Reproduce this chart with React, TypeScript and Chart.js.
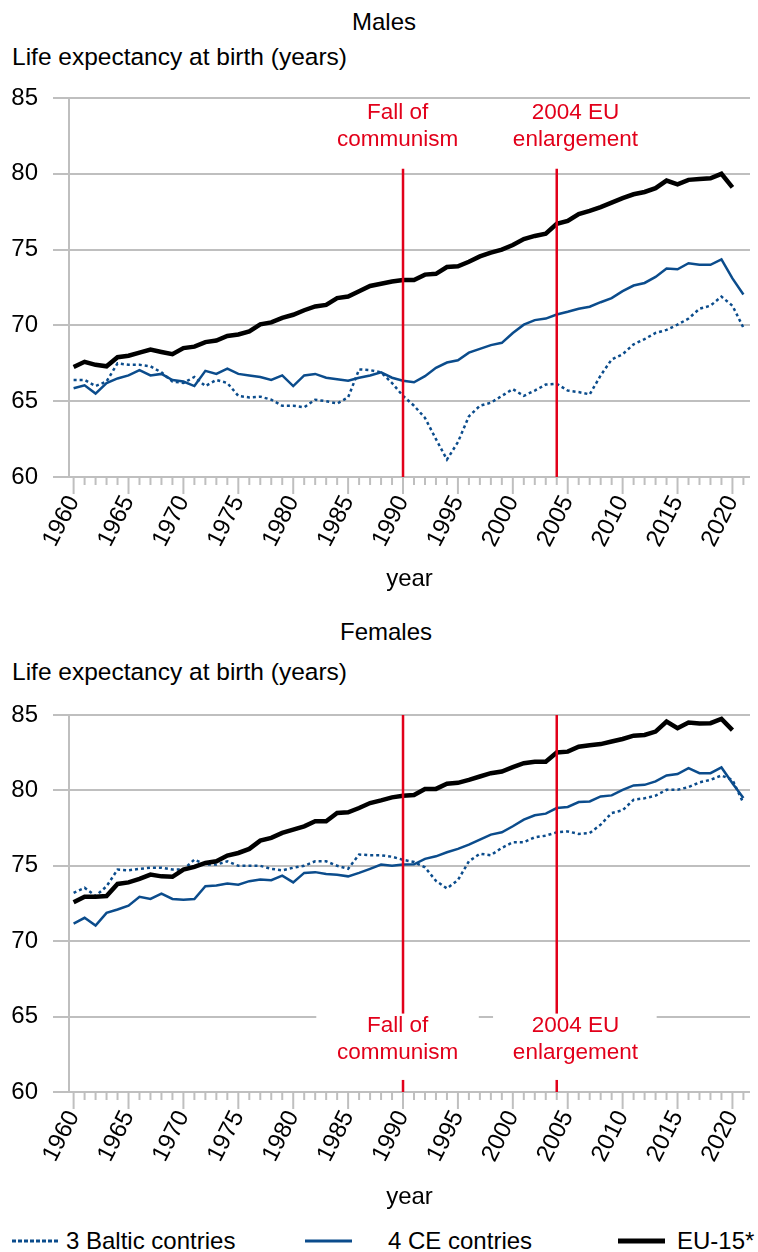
import React, { useEffect, useRef } from "react";
import { Chart, registerables } from "chart.js";

Chart.register(...registerables);

if (typeof document !== "undefined") {
  document.body.style.margin = "0";
}

// ---------- DATA ----------
const years = [
  1960, 1961, 1962, 1963, 1964, 1965, 1966, 1967, 1968, 1969,
  1970, 1971, 1972, 1973, 1974, 1975, 1976, 1977, 1978, 1979,
  1980, 1981, 1982, 1983, 1984, 1985, 1986, 1987, 1988, 1989,
  1990, 1991, 1992, 1993, 1994, 1995, 1996, 1997, 1998, 1999,
  2000, 2001, 2002, 2003, 2004, 2005, 2006, 2007, 2008, 2009,
  2010, 2011, 2012, 2013, 2014, 2015, 2016, 2017, 2018, 2019,
  2020, 2021,
];

const maleEU15 = [
  67.26, 67.6, 67.4, 67.3, 67.9, 68.0, 68.2, 68.4, 68.25, 68.1,
  68.5, 68.6, 68.9, 69.0, 69.3, 69.4, 69.6, 70.07, 70.2, 70.5,
  70.7, 71.0, 71.25, 71.35, 71.8, 71.9, 72.25, 72.6, 72.75, 72.9,
  73.0, 73.0, 73.35, 73.4, 73.85, 73.9, 74.2, 74.55, 74.8, 75.0,
  75.3, 75.7, 75.9, 76.05, 76.7, 76.9, 77.35, 77.55, 77.8, 78.1,
  78.4, 78.65, 78.8, 79.05, 79.55, 79.3, 79.6, 79.65, 79.7, 80.0,
  79.1, null,
];
const maleCE = [
  65.85, 66.05, 65.5, 66.2, 66.5, 66.7, 67.05, 66.7, 66.8, 66.4,
  66.3, 66.0, 67.0, 66.8, 67.15, 66.8, 66.7, 66.6, 66.4, 66.7,
  66.0, 66.7, 66.8, 66.55, 66.45, 66.35, 66.55, 66.7, 66.9, 66.55,
  66.35, 66.25, 66.65, 67.2, 67.55, 67.7, 68.2, 68.45, 68.7, 68.85,
  69.5, 70.05, 70.35, 70.45, 70.72, 70.9, 71.1, 71.23, 71.53, 71.8,
  72.26, 72.63, 72.8, 73.2, 73.75, 73.7, 74.1, 74.0, 74.0, 74.35,
  73.1, 72.04,
];
const maleBaltic = [
  66.4, 66.4, 66.0, 66.3, 67.5, 67.4, 67.4, 67.3, 66.9, 66.3,
  66.2, 66.6, 66.0, 66.4, 66.2, 65.35, 65.25, 65.3, 65.1, 64.7,
  64.7, 64.6, 65.1, 65.0, 64.85, 65.25, 67.1, 67.05, 66.9, 66.2,
  65.35, 64.7, 63.9, 62.5, 61.15, 62.3, 64.0, 64.7, 64.9, 65.35,
  65.8, 65.35, 65.7, 66.1, 66.15, 65.7, 65.6, 65.45, 66.7, 67.75,
  68.1, 68.75, 69.1, 69.5, 69.7, 70.05, 70.45, 71.1, 71.3, 71.9,
  71.3, 69.85,
];

const femaleEU15 = [
  72.58, 72.95, 72.95, 73.0, 73.8, 73.9, 74.13, 74.42, 74.3, 74.27,
  74.75, 74.93, 75.19, 75.3, 75.68, 75.85, 76.12, 76.67, 76.85, 77.18,
  77.4, 77.62, 77.95, 77.95, 78.5, 78.55, 78.83, 79.16, 79.34, 79.54,
  79.65, 79.7, 80.09, 80.1, 80.44, 80.5, 80.7, 80.92, 81.14, 81.25,
  81.54, 81.8, 81.9, 81.9, 82.51, 82.57, 82.9, 83.0, 83.07, 83.24,
  83.41, 83.63, 83.68, 83.9, 84.56, 84.12, 84.5, 84.43, 84.46, 84.74,
  84.0, null,
];
const femaleCE = [
  71.17, 71.55, 71.04, 71.88, 72.1, 72.36, 72.94, 72.8, 73.16, 72.8,
  72.75, 72.8, 73.65, 73.7, 73.82, 73.75, 73.98, 74.09, 74.05, 74.35,
  73.9, 74.53, 74.58, 74.45, 74.4, 74.3, 74.53, 74.8, 75.08, 75.0,
  75.08, 75.1, 75.46, 75.63, 75.9, 76.12, 76.4, 76.74, 77.07, 77.22,
  77.62, 78.06, 78.35, 78.46, 78.83, 78.9, 79.23, 79.27, 79.6, 79.67,
  80.04, 80.33, 80.37, 80.6, 80.99, 81.08, 81.47, 81.14, 81.14, 81.52,
  80.48, 79.49,
];
const femaleBaltic = [
  73.2, 73.54, 73.0, 73.64, 74.75, 74.7, 74.8, 74.87, 74.87, 74.75,
  74.75, 75.41, 75.08, 75.08, 75.3, 75.0, 75.0, 75.0, 74.8, 74.7,
  74.87, 75.0, 75.3, 75.3, 75.0, 74.8, 75.75, 75.7, 75.7, 75.6,
  75.4, 75.25, 74.9, 74.0, 73.5, 74.05, 75.3, 75.8, 75.7, 76.19,
  76.56, 76.56, 76.89, 77.0, 77.22, 77.28, 77.11, 77.17, 77.73, 78.5,
  78.68, 79.38, 79.48, 79.65, 80.04, 80.04, 80.22, 80.53, 80.7, 80.99,
  80.7, 79.16,
];

const yTicks = [60, 65, 70, 75, 80, 85];
const eventYears = [1990, 2004];
const eventLabels = [
  ["Fall of", "communism"],
  ["2004 EU", "enlargement"],
];
const seriesNames = ["3 Baltic contries", "4 CE contries", "EU-15*"];

// ---------- STYLE ----------
const FONT = "'Liberation Sans', Arial, sans-serif";
const GRID = "#bfbfbf";
const BLUE = "#0b4c8c";
const RED = "#e2001a";

type Panel = {
  eu: (number | null)[];
  ce: (number | null)[];
  baltic: (number | null)[];
  axisHeight: number;
  canvasHeight: number;
  redTop: number;
  labelRows: number[];
  labelCenters: number[];
  gap: null | { top: number; bottom: number; ranges: number[][] };
};

const malePanel: Panel = {
  eu: maleEU15,
  ce: maleCE,
  baltic: maleBaltic,
  axisHeight: 117,
  canvasHeight: 514,
  redTop: 80.33,
  labelRows: [84.0, 82.24],
  labelCenters: [1989.5, 2005.7],
  gap: null,
};

const femalePanel: Panel = {
  eu: femaleEU15,
  ce: femaleCE,
  baltic: femaleBaltic,
  axisHeight: 120,
  canvasHeight: 515,
  redTop: 85,
  labelRows: [64.37, 62.58],
  labelCenters: [1989.5, 2005.7],
  gap: { top: 65.2, bottom: 60.8, ranges: [[1982.1, 1996.9], [1998.2, 2013.1]] },
};

const eventsPlugin = {
  id: "eventsPlugin",
  afterDatasetsDraw(chart: any, _args: any, opts: any) {
    const p: Panel = opts.panel;
    const xs = chart.scales.x;
    const ys = chart.scales.y;
    const ctx = chart.ctx;
    const area = chart.chartArea;
    ctx.save();
    ctx.strokeStyle = RED;
    ctx.lineWidth = 2.5;
    eventYears.forEach((yr) => {
      const px = xs.getPixelForValue(yr);
      ctx.beginPath();
      ctx.moveTo(px, ys.getPixelForValue(p.redTop));
      ctx.lineTo(px, area.bottom);
      ctx.stroke();
    });
    if (p.gap) {
      ctx.fillStyle = "#ffffff";
      const t = ys.getPixelForValue(p.gap.top);
      const b = ys.getPixelForValue(p.gap.bottom);
      p.gap.ranges.forEach((r) => {
        const l = xs.getPixelForValue(r[0]);
        const rr = xs.getPixelForValue(r[1]);
        ctx.fillRect(l, t, rr - l, b - t);
      });
    }
    ctx.fillStyle = RED;
    ctx.font = `22.5px ${FONT}`;
    ctx.textAlign = "center";
    ctx.textBaseline = "middle";
    eventLabels.forEach((lines, i) => {
      const cx = xs.getPixelForValue(p.labelCenters[i]);
      lines.forEach((line, j) => {
        ctx.fillText(line, cx, ys.getPixelForValue(p.labelRows[j]));
      });
    });
    ctx.restore();
  },
  afterDraw(chart: any) {
    const xs = chart.scales.x;
    const ctx = chart.ctx;
    const bottom = chart.chartArea.bottom;
    ctx.save();
    ctx.strokeStyle = GRID;
    ctx.lineWidth = 2;
    years.forEach((yr) => {
      const px = xs.getPixelForValue(yr);
      const len = yr % 5 === 0 ? 17 : 8;
      ctx.beginPath();
      ctx.moveTo(px, bottom);
      ctx.lineTo(px, bottom + len);
      ctx.stroke();
    });
    ctx.restore();
  },
};

function LifeChart({ panel }: { panel: Panel }) {
  const ref = useRef<HTMLCanvasElement>(null);
  useEffect(() => {
    const toPts = (arr: (number | null)[]) => years.map((yr, i) => ({ x: yr, y: arr[i] }));
    const chart = new Chart(ref.current as HTMLCanvasElement, {
      type: "line",
      data: {
        datasets: [
          {
            label: seriesNames[2],
            data: toPts(panel.eu) as any,
            borderColor: "#000000",
            borderWidth: 4.5,
            pointRadius: 0,
            tension: 0,
          },
          {
            label: seriesNames[1],
            data: toPts(panel.ce) as any,
            borderColor: BLUE,
            borderWidth: 2.5,
            pointRadius: 0,
            tension: 0,
          },
          {
            label: seriesNames[0],
            data: toPts(panel.baltic) as any,
            borderColor: BLUE,
            borderWidth: 2.5,
            borderDash: [3, 3],
            pointRadius: 0,
            tension: 0,
          },
        ],
      },
      options: {
        animation: false,
        responsive: false,
        maintainAspectRatio: false,
        devicePixelRatio: 1,
        layout: { padding: { top: 18, left: 0, right: 0, bottom: 0 } },
        plugins: {
          legend: { display: false },
          tooltip: { enabled: false },
          title: { display: false },
          eventsPlugin: { panel },
        } as any,
        scales: {
          x: {
            type: "linear",
            min: 1959.58,
            max: 2021.6,
            afterBuildTicks: (s: any) => {
              s.ticks = years.map((v) => ({ value: v }));
            },
            ticks: {
              autoSkip: false,
              minRotation: 63,
              maxRotation: 63,
              padding: 14,
              color: "#000",
              font: { family: FONT, size: 24 },
              callback: (v: any) => (Number(v) % 5 === 0 ? String(v) : ""),
            },
            grid: { display: true, drawOnChartArea: false, drawTicks: false },
            border: { display: true, color: GRID, width: 2 },
            title: {
              display: true,
              text: "year",
              color: "#000",
              padding: 0,
              font: { family: FONT, size: 24 },
            },
            afterFit: (s: any) => {
              s.height = panel.axisHeight;
              s.paddingLeft = 0;
              s.paddingRight = 0;
            },
          } as any,
          y: {
            min: 60,
            max: 85,
            afterBuildTicks: (s: any) => {
              s.ticks = yTicks.map((v) => ({ value: v }));
            },
            ticks: {
              padding: 15,
              color: "#000",
              font: { family: FONT, size: 24 },
            },
            grid: { color: GRID, lineWidth: 2, tickLength: 16, drawTicks: true },
            border: { display: true, color: GRID, width: 2 },
            afterFit: (s: any) => {
              s.width = 61;
              s.paddingTop = 0;
              s.paddingBottom = 0;
            },
          } as any,
        },
      },
      plugins: [eventsPlugin],
    });
    return () => chart.destroy();
  }, [panel]);
  return (
    <canvas
      ref={ref}
      width={742}
      height={panel.canvasHeight}
      style={{ display: "block", width: 742, height: panel.canvasHeight }}
    />
  );
}

const textStyle: React.CSSProperties = {
  position: "absolute",
  fontFamily: FONT,
  fontSize: 24,
  lineHeight: "24px",
  color: "#000",
  whiteSpace: "nowrap",
};

function LegendLine({ left, dash, color, width }: { left: number; dash?: string; color: string; width: number }) {
  return (
    <svg width={48} height={10} style={{ position: "absolute", left, top: 1236 }}>
      <line x1={0} y1={5} x2={47} y2={5} stroke={color} strokeWidth={width} strokeDasharray={dash} />
    </svg>
  );
}

export default function App() {
  return (
    <div style={{ position: "relative", width: 758, height: 1252, overflow: "hidden", background: "#fff" }}>
      <div style={{ ...textStyle, left: 284, width: 200, textAlign: "center", top: 10 }}>Males</div>
      <div style={{ ...textStyle, left: 12, top: 45, fontSize: 24.5 }}>Life expectancy at birth (years)</div>
      <div style={{ position: "absolute", left: 8, top: 80 }}>
        <LifeChart panel={malePanel} />
      </div>

      <div style={{ ...textStyle, left: 286, width: 200, textAlign: "center", top: 620 }}>Females</div>
      <div style={{ ...textStyle, left: 12, top: 660, fontSize: 24.5 }}>Life expectancy at birth (years)</div>
      <div style={{ position: "absolute", left: 8, top: 697 }}>
        <LifeChart panel={femalePanel} />
      </div>

      <LegendLine left={12} dash="4 2" color={BLUE} width={3} />
      <div style={{ ...textStyle, left: 66, top: 1229 }}>{seriesNames[0]}</div>
      <LegendLine left={305} color={BLUE} width={3} />
      <div style={{ ...textStyle, left: 388, top: 1229 }}>{seriesNames[1]}</div>
      <LegendLine left={618} color="#000" width={5} />
      <div style={{ ...textStyle, left: 677, top: 1229 }}>{seriesNames[2]}</div>
    </div>
  );
}
